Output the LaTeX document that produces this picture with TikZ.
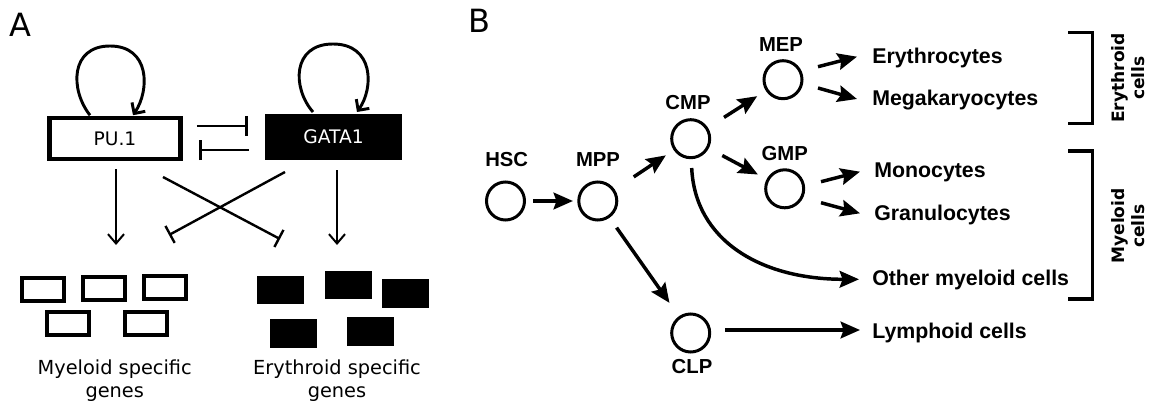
\documentclass[tikz,border=0pt]{standalone}
\usepackage{fontspec}
\setmainfont{DejaVu Sans}
\newfontfamily\dvs{DejaVu Sans}
\newfontfamily\arl{Liberation Sans}
\usetikzlibrary{arrows.meta}
\begin{document}
\begin{tikzpicture}[x=0.75pt,y=-0.75pt,
  panel/.style={inner sep=0, anchor=base west, font=\dvs\fontsize{24}{28}\selectfont},
  pubox/.style={draw, line width=3.4pt, minimum width=98.6pt, minimum height=30.4pt, inner sep=0, outer sep=0, font=\dvs\fontsize{14}{17}\selectfont},
  gabox/.style={fill=black, text=white, minimum width=102.75pt, minimum height=34.5pt, inner sep=0, outer sep=0, font=\dvs\fontsize{14}{17}\selectfont},
  genopen/.style={draw, line width=3pt, minimum width=31.5pt, minimum height=17.25pt, inner sep=0, outer sep=0},
  genfill/.style={fill=black, minimum width=35.25pt, minimum height=21.4pt, inner sep=0, outer sep=0},
  genlbl/.style={inner sep=0, anchor=base, align=center, font=\dvs\fontsize{14.5}{17.25}\selectfont},
  loopst/.style={line width=2.2pt, -{Straight Barb[length=6pt,width=12pt,line width=2.2pt]}},
  actst/.style={line width=1.5pt, -{Straight Barb[length=7pt,width=12pt,line width=1.5pt]}},
  inhst/.style={line width=2pt, -{Bar[width=15pt,line width=2pt]}},
  crossst/.style={line width=1.8pt, -{Bar[width=14.5pt,line width=1.8pt]}},
  cell/.style={circle, draw, line width=2.25pt, minimum size=28.5pt, inner sep=0, outer sep=0},
  clbl/.style={inner sep=0, anchor=base, font=\arl\bfseries\fontsize{15.2}{18}\selectfont},
  tlbl/.style={inner sep=0, anchor=base west, font=\arl\bfseries\fontsize{16}{19}\selectfont},
  grp/.style={inner sep=0, rotate=90, align=center, font=\dvs\bfseries\fontsize{12.8}{15}\selectfont},
  barr/.style={line width=2.6pt, -{Stealth[length=14.5pt,width=12.5pt,inset=2.2pt]}},
  brk/.style={line width=2.3pt}
]
\useasboundingbox (0,0) rectangle (1154,403);
\fill[white] (0,0) rectangle (1154,403);

% ---------------- Panel A ----------------
\node[panel] (A) at (9,37) {A};
\node[pubox] (pu) at (115,138.5) {PU.1};
\node[gabox] (ga) at (333.5,137) {GATA1};

\draw[loopst] ([shift={(-25,-3)}]pu.north) .. controls (70,90) and (70,46) .. (110,46)
   .. controls (150,46) and (150,90) .. ([shift={(18,-3)}]pu.north);
\draw[loopst] ([shift={(-20.5,-2)}]ga.north) .. controls (292,88) and (292,44) .. (333,44)
   .. controls (374,44) and (374,88) .. ([shift={(23.5,-2)}]ga.north);

\draw[inhst] ([shift={(16.25,-12.5)}]pu.east) -- ([shift={(-17,-11)}]ga.west);
\draw[inhst] ([shift={(-16,13)}]ga.west) -- ([shift={(18.25,11.5)}]pu.east);

\coordinate (myd) at (116,245);
\coordinate (eryd) at (337,245);
\coordinate (erx) at (280,239);
\coordinate (myx) at (169,235);
\draw[actst] ([shift={(1,10.25)}]pu.south) -- (myd);
\draw[actst] ([shift={(3.5,10)}]ga.south) -- (eryd);
\draw[crossst] ([shift={(48,18.25)}]pu.south) -- (erx);
\draw[crossst] ([shift={(-48.5,12)}]ga.south) -- (myx);

\node[genopen] (m1) at (43,289.5) {};
\node[genopen] (m2) at (104,288.5) {};
\node[genopen] (m3) at (165,287.5) {};
\node[genopen] (m4) at (67.5,323.5) {};
\node[genopen] (m5) at (146,323.5) {};
\node[genfill] (e1) at (280.5,290) {};
\node[genfill] (e2) at (348,285) {};
\node[genfill] (e3) at (405.5,293.5) {};
\node[genfill] (e4) at (293.5,333.5) {};
\node[genfill] (e5) at (370.5,331.5) {};

\node[genlbl] (mylbl) at (114.7,397) {Myeloid specific\\genes};
\node[genlbl] (erlbl) at (337,397) {Erythroid specific\\genes};

% ---------------- Panel B ----------------
\node[panel] (B) at (468,33) {B};

\node[cell] (hsc) at (505.5,201) {};
\node[cell] (mpp) at (597.8,201) {};
\node[cell] (cmp) at (690.7,138.7) {};
\node[cell] (mep) at (783,79.7) {};
\node[cell] (gmp) at (784.7,188.8) {};
\node[cell] (clp) at (690.7,333) {};

\node[clbl] (hscl) at (506.7,166.7) {HSC};
\node[clbl] (mppl) at (598,166.7) {MPP};
\node[clbl] (cmpl) at (688,110) {CMP};
\node[clbl] (mepl) at (781,51.7) {MEP};
\node[clbl] (gmpl) at (784.7,160.7) {GMP};
\node[clbl] (clpl) at (692,373) {CLP};

\node[tlbl] (ery) at (872,63.3) {Erythrocytes};
\node[tlbl] (meg) at (872,106) {Megakaryocytes};
\node[tlbl] (mono) at (874,177.7) {Monocytes};
\node[tlbl] (gran) at (874,220) {Granulocytes};
\node[tlbl] (oth) at (872,285.7) {Other myeloid cells};
\node[tlbl] (lym) at (872,338) {Lymphoid cells};

\draw[barr, shorten <=6.4pt, shorten >=4.4pt] (hsc) -- (mpp);
\draw[barr, shorten <=18.2pt, shorten >=8.2pt] (mpp) -- (cmp);
\draw[barr, shorten <=15.4pt, shorten >=8.7pt] (cmp) -- (mep);
\draw[barr, shorten <=12.6pt, shorten >=8.5pt] (cmp) -- (gmp);
\draw[barr, shorten <=10.2pt, shorten >=13.4pt] (mpp) -- (clp);

\draw[barr] ([shift={(35,-13)}]mep.center) -- ([shift={(-15,-6.6)}]ery.base west);
\draw[barr] ([shift={(35,8.3)}]mep.center) -- ([shift={(-15,-7)}]meg.base west);
\draw[barr] ([shift={(36.3,-7.1)}]gmp.center) -- ([shift={(-14,-6)}]mono.base west);
\draw[barr] ([shift={(36.3,13.9)}]gmp.center) -- ([shift={(-14,-6.7)}]gran.base west);
\draw[barr] ([shift={(1,29.3)}]cmp.center) .. controls (695,240) and (760,279.3) .. ([shift={(-13,-6.4)}]oth.base west);
\draw[barr] ([shift={(34.3,-3)}]clp.center) -- ([shift={(-12,-8)}]lym.base west);

\draw[brk] (1068,32.3) -- (1092.5,32.3) -- (1092.5,123.3) -- (1068,123.3);
\draw[brk] (1068,151) -- (1092.5,151) -- (1092.5,299) -- (1068,299);
\node[grp] (eryg) at (1128,78) {Erythroid\\cells};
\node[grp] (myg) at (1128,226) {Myeloid\\cells};
\end{tikzpicture}
\end{document}
